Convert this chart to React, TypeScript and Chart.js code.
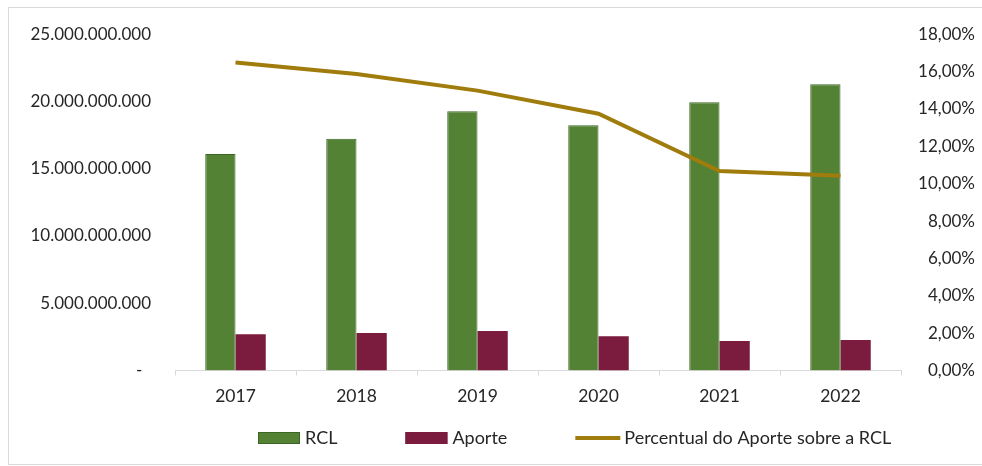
import React, { useEffect, useRef } from 'react';
import { Chart, registerables } from 'chart.js';

Chart.register(...registerables);

const categories = ['2017', '2018', '2019', '2020', '2021', '2022'];
const rcl = [16.09e9, 17.22e9, 19.28e9, 18.23e9, 19.95e9, 21.28e9];
const aporte = [2.69e9, 2.79e9, 2.94e9, 2.54e9, 2.2e9, 2.27e9];
const percentual = [16.49, 15.87, 14.98, 13.74, 10.68, 10.43];
const seriesLabels = ['RCL', 'Aporte', 'Percentual do Aporte sobre a RCL'];

const FONT = 'Lato, "Open Sans", sans-serif';
const TEXT = '#262626';
const GREEN = '#548235';
const GREEN_EDGE = '#3d6526';
const MAROON = '#7b1b3e';
const GOLD = '#a07c0d';

function fmtBig(v: number): string {
  if (v === 0) return '-  ';
  return String(Math.round(v)).replace(/\B(?=(\d{3})+(?!\d))/g, '.');
}
function fmtPct(v: number): string {
  return v.toFixed(2).replace('.', ',') + '%';
}

const legendPlugin = {
  id: 'customLegend',
  afterDraw(chart: any) {
    const ctx = chart.ctx;
    ctx.save();
    ctx.font = '18px ' + FONT;
    ctx.textBaseline = 'middle';
    const y = 438;
    let x = 258;
    chart.data.datasets.forEach((ds: any) => {
      if (ds.type === 'line') {
        ctx.strokeStyle = ds.borderColor;
        ctx.lineWidth = 4;
        ctx.beginPath();
        ctx.moveTo(x, y);
        ctx.lineTo(x + 45, y);
        ctx.stroke();
        x += 45 + 4;
      } else {
        ctx.fillStyle = ds.backgroundColor;
        ctx.fillRect(x, y - 6, 42, 12);
        ctx.strokeStyle = ds.borderColor;
        ctx.lineWidth = 1;
        ctx.strokeRect(x + 0.5, y - 5.5, 41, 11);
        x += 42 + 5;
      }
      ctx.fillStyle = TEXT;
      ctx.fillText(ds.label, x, y);
      x += ctx.measureText(ds.label).width + 68;
    });
    ctx.restore();
  },
};

export default function App() {
  const ref = useRef<HTMLCanvasElement | null>(null);
  useEffect(() => {
    if (!ref.current) return;
    Chart.defaults.font.family = FONT;
    Chart.defaults.font.size = 17;
    Chart.defaults.color = TEXT;
    const chart = new Chart(ref.current, {
      type: 'bar',
      data: {
        labels: categories,
        datasets: [
          {
            type: 'bar',
            label: seriesLabels[0],
            data: rcl,
            backgroundColor: GREEN,
            borderColor: GREEN_EDGE,
            borderWidth: 1,
            yAxisID: 'y',
            order: 1,
            barPercentage: 1,
            categoryPercentage: 0.5,
          },
          {
            type: 'bar',
            label: seriesLabels[1],
            data: aporte,
            backgroundColor: MAROON,
            borderColor: MAROON,
            borderWidth: 0,
            yAxisID: 'y',
            order: 1,
            barPercentage: 1,
            categoryPercentage: 0.5,
          },
          {
            type: 'line',
            label: seriesLabels[2],
            data: percentual,
            borderColor: GOLD,
            backgroundColor: GOLD,
            borderWidth: 4,
            pointRadius: 0,
            tension: 0,
            yAxisID: 'y1',
            order: 0,
          } as any,
        ],
      },
      options: {
        responsive: false,
        animation: false,
        devicePixelRatio: 1,
        layout: { padding: { top: 30, right: 7, left: 0, bottom: 0 } },
        plugins: { legend: { display: false }, tooltip: { enabled: false } },
        scales: {
          x: {
            offset: true,
            grid: {
              display: true,
              drawOnChartArea: false,
              drawTicks: true,
              tickLength: 5,
              color: '#d9d9d9',
              offset: true,
            },
            border: { display: true, color: '#d9d9d9', width: 1 },
            ticks: { padding: 10, color: TEXT, font: { size: 17.5, family: FONT } },
            afterFit: (s: any) => { s.height = 95.5; },
          },
          y: {
            position: 'left',
            min: 0,
            max: 25e9,
            grid: { display: false, drawTicks: false },
            border: { display: false },
            ticks: {
              stepSize: 5e9,
              padding: 24,
              color: TEXT,
              font: { size: 17, family: FONT },
              callback: (v: any) => fmtBig(Number(v)),
            },
            afterFit: (s: any) => { s.width = 175; },
          },
          y1: {
            position: 'right',
            min: 0,
            max: 18,
            grid: { display: false, drawTicks: false },
            border: { display: false },
            ticks: {
              stepSize: 2,
              padding: 17,
              crossAlign: 'far',
              color: TEXT,
              font: { size: 17, family: FONT },
              callback: (v: any) => fmtPct(Number(v)),
            },
            afterFit: (s: any) => { s.width = 74; },
          },
        },
      } as any,
      plugins: [legendPlugin],
    });
    return () => chart.destroy();
  }, []);

  return (
    <div style={{ position: 'fixed', left: 0, top: 0, width: 982, height: 466, background: '#fff', overflow: 'hidden' }}>
      <div
        style={{
          position: 'absolute',
          left: 8,
          top: 7,
          width: 1000,
          height: 456,
          border: '1px solid #d9d9d9',
        }}
      />
      <canvas ref={ref} width={982} height={466} style={{ position: 'absolute', left: 0, top: 0, width: 982, height: 466 }} />
    </div>
  );
}
